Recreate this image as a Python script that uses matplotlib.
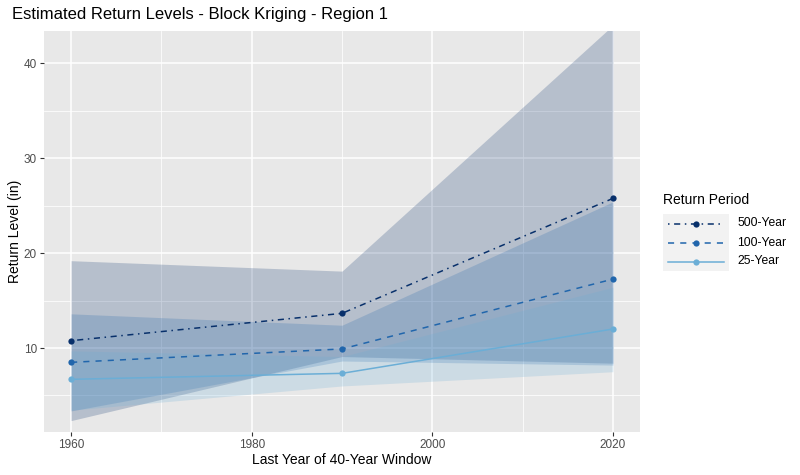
import matplotlib
matplotlib.use("Agg")
import matplotlib.pyplot as plt
from matplotlib.lines import Line2D

plt.rcParams['font.family'] = ['Liberation Sans', 'DejaVu Sans']

# ---- data ----
years = [1960, 1990, 2020]
periods = ["500-Year", "100-Year", "25-Year"]
rl_500 = [10.77, 13.65, 25.76]
rl_100 = [8.49, 9.90, 17.26]
rl_25 = [6.70, 7.33, 12.00]
lo_500 = [2.35, 9.10, 8.40]
hi_500 = [19.20, 18.10, 44.00]
lo_100 = [3.37, 8.63, 8.20]
hi_100 = [13.60, 12.40, 25.40]
lo_25 = [3.45, 6.00, 7.50]
hi_25 = [9.70, 9.10, 16.40]
x_ticks = [1960, 1980, 2000, 2020]
y_ticks = [10, 20, 30, 40]

colors = {"500-Year": "#08306B", "100-Year": "#2166AC", "25-Year": "#6BAED6"}
styles = {"500-Year": (0, (1, 3, 4, 3)), "100-Year": (0, (4, 4)), "25-Year": "solid"}
series = {"500-Year": (rl_500, lo_500, hi_500),
          "100-Year": (rl_100, lo_100, hi_100),
          "25-Year": (rl_25, lo_25, hi_25)}

W, H = 800, 475
fig = plt.figure(figsize=(8, 4.75), dpi=100)
L, R, T, B = 44, 640, 31, 432
ax = fig.add_axes([L / W, 1 - B / H, (R - L) / W, (B - T) / H])
ax.set_facecolor("#E8E8E8")
for s in ax.spines.values():
    s.set_visible(False)

ax.set_xlim(1957, 2023)
ax.set_ylim(1.15, 43.4)
ax.set_xticks(x_ticks)
ax.set_yticks(y_ticks)
ax.set_xticks([1970, 1990, 2010], minor=True)
ax.set_yticks([5, 15, 25, 35], minor=True)
ax.grid(which="major", color="white", linewidth=1.1)
ax.grid(which="minor", color="white", linewidth=0.55)
ax.set_axisbelow(True)
ax.tick_params(which="major", length=3, width=0.8, color="#333333",
               labelsize=8.5, labelcolor="#4D4D4D", pad=2)
ax.tick_params(which="minor", length=0)

for p in periods:
    rl, lo, hi = series[p]
    ax.fill_between(years, lo, hi, color=colors[p], alpha=0.22, linewidth=0)
for p in periods:
    rl, lo, hi = series[p]
    ax.plot(years, rl, color=colors[p], linestyle=styles[p], linewidth=1.1,
            marker="o", markersize=4.5, markeredgewidth=0)

fig.text(12 / W, 1 - 15 / H, "Estimated Return Levels - Block Kriging - Region 1",
         fontsize=12, ha="left", va="center", color="black")
fig.text(15 / W, 1 - ((T + B) / 2) / H, "Return Level (in)", fontsize=10,
         rotation=90, ha="center", va="center")
fig.text(((L + R) / 2) / W, 1 - 460 / H, "Last Year of 40-Year Window",
         fontsize=10, ha="center", va="center")

# ---- legend ----
fig.text(663 / W, 1 - 200 / H, "Return Period", fontsize=10, ha="left", va="center")
lx0, lx1, ly0, ly1 = 663, 729, 214, 271
lax = fig.add_axes([lx0 / W, 1 - ly1 / H, (lx1 - lx0) / W, (ly1 - ly0) / H])
lax.set_facecolor("#F2F2F2")
for s in lax.spines.values():
    s.set_visible(False)
lax.set_xticks([])
lax.set_yticks([])
lax.set_xlim(0, 1)
lax.set_ylim(0, 3)
for i, p in enumerate(periods):
    yc = 2.5 - i
    lax.add_line(Line2D([0.08, 0.92], [yc, yc], color=colors[p], linestyle=styles[p],
                        linewidth=1.1))
    lax.add_line(Line2D([0.5], [yc], color=colors[p], marker="o", markersize=4.5,
                        markeredgewidth=0))
    fig.text(737 / W, 1 - (ly0 + (i + 0.5) * (ly1 - ly0) / 3) / H, p, fontsize=8.7,
             ha="left", va="center")

fig.savefig("out.png", dpi=100)
